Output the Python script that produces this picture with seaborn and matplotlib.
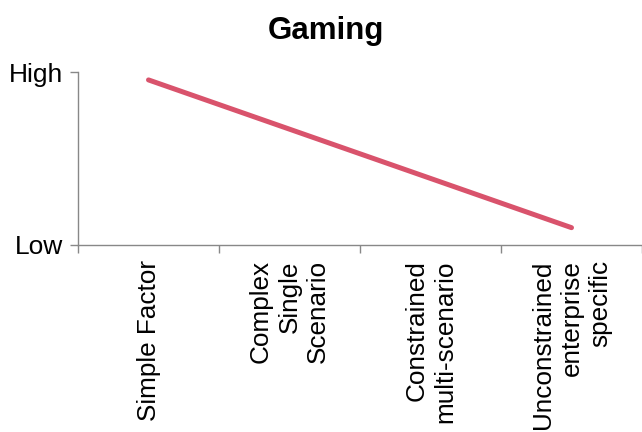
import matplotlib
matplotlib.use("Agg")
import matplotlib.pyplot as plt
import seaborn as sns
import pandas as pd

categories = ["Simple Factor", "Complex\nSingle\nScenario", "Constrained\nmulti-scenario",
              "Unconstrained\nenterprise\nspecific"]
level = [0.955, 0.67, 0.385, 0.10]
ytick_labels = ["Low", "High"]

df = pd.DataFrame({"pos": range(len(categories)), "level": level})

sns.set_style("white")
plt.rcParams["font.family"] = ["Liberation Sans", "DejaVu Sans"]

fig = plt.figure(figsize=(6.42, 4.32), dpi=100)
ax = fig.add_axes([0.1215, 0.433, 0.8785, 0.40])

sns.lineplot(data=df, x="pos", y="level", ax=ax, color="#d9536c", linewidth=3.6,
             solid_capstyle="round")

ax.set_xlim(-0.5, len(categories) - 0.5)
ax.set_ylim(0, 1)
ax.set_xticks(range(len(categories)))
ax.set_xticklabels(categories, rotation=90, ha="center", va="top",
                   multialignment="right", fontsize=18.8, color="black",
                   linespacing=1.25)
ax.set_xticks([i - 0.5 for i in range(len(categories) + 1)], minor=True)
ax.tick_params(axis="x", which="major", length=0, pad=11, bottom=False)
ax.tick_params(axis="x", which="minor", length=6, color="#888888", width=1, bottom=True)
ax.set_yticks([0, 1])
ax.set_yticklabels(ytick_labels, fontsize=19, color="black")
ax.tick_params(axis="y", length=6, color="#888888", width=1, left=True, pad=5)
ax.set_xlabel("")
ax.set_ylabel("")

for s in ["top", "right"]:
    ax.spines[s].set_visible(False)
for s in ["left", "bottom"]:
    ax.spines[s].set_color("#888888")
    ax.spines[s].set_linewidth(1)

fig.suptitle("Gaming", fontsize=22.5, fontweight="bold", x=0.508, y=0.962, color="black")

fig.savefig("out.png", dpi=100)
